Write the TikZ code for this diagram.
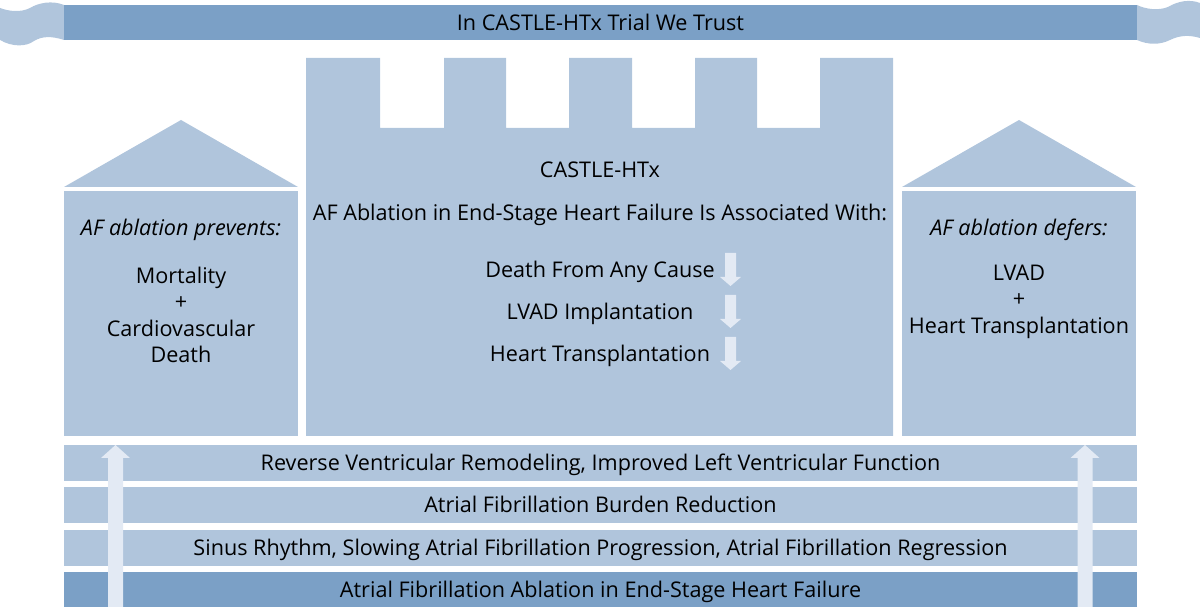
\documentclass[tikz,border=0pt]{standalone}
\usepackage{fontspec}
\setmainfont{Open Sans}
\definecolor{panelblue}{HTML}{B0C5DC}
\definecolor{darkblue}{HTML}{7BA0C6}
\definecolor{paleblue}{HTML}{E3EAF4}
\tikzset{
  label/.style={font=\fontsize{12.3}{12.3}\selectfont, text=black, inner sep=0pt, text height=9.5pt, text depth=0.5pt},
  strip/.style={label, minimum width=21.46cm, minimum height=0.72cm}
}
\begin{document}
\begin{tikzpicture}[x=0.02cm,y=-0.02cm]
\useasboundingbox (0,0) rectangle (1200,607);
% ribbon
\fill[panelblue] (0,8) .. controls (8,11) and (20,13) .. (30,8) .. controls (38,3) and (52,0) .. (64,5) -- (64,40) .. controls (52,36) and (42,36) .. (34,41) .. controls (26,47) and (12,47) .. (0,40) -- cycle;
\fill[panelblue] (1137,5) .. controls (1145,9) and (1158,11) .. (1168,7) .. controls (1178,1) and (1190,-1) .. (1200,3) -- (1200,38) .. controls (1190,35) and (1180,35) .. (1170,40) .. controls (1160,45) and (1148,45) .. (1137,40) -- cycle;
\node[label, fill=darkblue, minimum width=21.46cm, minimum height=0.7cm] (banner) at (600.5,22.5){In CASTLE-HTx Trial We Trust};
% castle
\fill[panelblue] (306,58) -- (380,58) -- (380,128) -- (444,128) -- (444,58) -- (506,58) -- (506,128) -- (569,128) -- (569,58) -- (632,58) -- (632,128) -- (695,128) -- (695,58) -- (757,58) -- (757,128) -- (820,128) -- (820,58) -- (893,58) -- (893,436) -- (306,436) -- cycle;
\node[label] (title) at (600,170){CASTLE-HTx};
\node[label] (subtitle) at (600,213){AF Ablation in End-Stage Heart Failure Is Associated With:};
\node[label] (death) at (600,270){Death From Any Cause};
\node[label] (lvad) at (600,312){LVAD Implantation};
\node[label] (htx) at (600,354){Heart Transplantation};
\foreach \y in {253,295,337}
  \fill[paleblue] (725,\y) -- (736,\y) -- (736,\y+24) -- (741,\y+24) -- (730.5,\y+33) -- (720,\y+24) -- (725,\y+24) -- cycle;
% left house
\fill[panelblue] (64,187) -- (181,120) -- (298,187) -- cycle;
\fill[panelblue] (64,191) rectangle (298,436);
\node[label] (prevents) at (181,228){\itshape AF ablation prevents:};
\node[label] (mortality) at (181,276){Mortality};
\node[label] (plusleft) at (181,302){+};
\node[label] (cardio) at (181,329){Cardiovascular};
\node[label] (cvdeath) at (181,355){Death};
% right house
\fill[panelblue] (902,187) -- (1019,120) -- (1136,187) -- cycle;
\fill[panelblue] (902,191) rectangle (1136,436);
\node[label] (defers) at (1019,228){\itshape AF ablation defers:};
\node[label] (lvadright) at (1019,273){LVAD};
\node[label] (plusright) at (1019,299){+};
\node[label] (htxright) at (1019,326){Heart Transplantation};
% foundation
\node[strip, fill=panelblue] (remodeling) at (600.5,463){Reverse Ventricular Remodeling, Improved Left Ventricular Function};
\node[strip, fill=panelblue] (burden) at (600.5,505){Atrial Fibrillation Burden Reduction};
\node[strip, fill=panelblue] (sinus) at (600.5,548){Sinus Rhythm, Slowing Atrial Fibrillation Progression, Atrial Fibrillation Regression};
\node[strip, fill=darkblue] (ablation) at (600.5,589.5){Atrial Fibrillation Ablation in End-Stage Heart Failure};
\foreach \x in {115.5,1085}
  \fill[paleblue] (\x-7.5,607) -- (\x-7.5,458) -- (\x-14.5,458) -- (\x,445) -- (\x+14.5,458) -- (\x+7.5,458) -- (\x+7.5,607) -- cycle;
\end{tikzpicture}
\end{document}
